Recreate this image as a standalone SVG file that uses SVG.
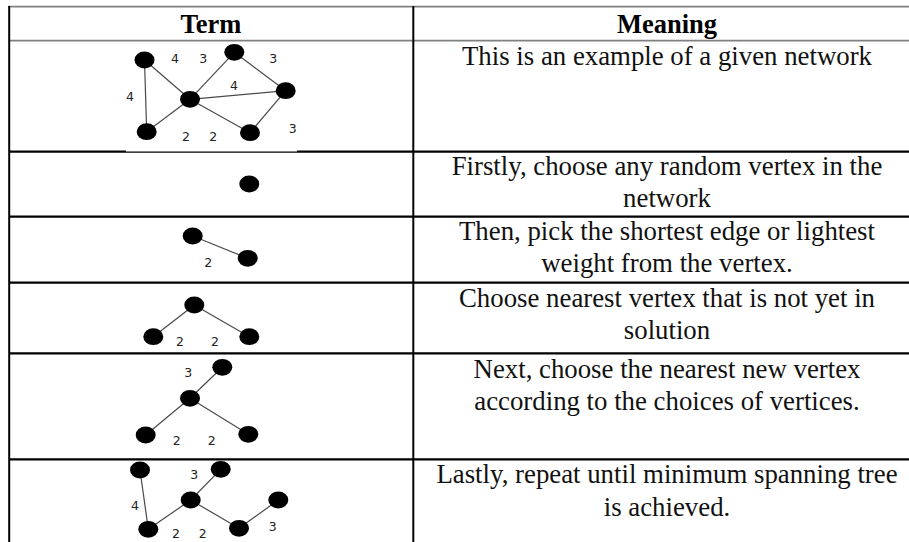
<svg xmlns="http://www.w3.org/2000/svg" width="909" height="542" viewBox="0 0 909 542">
<style>
.bg{fill:#ffffff}
.hg{stroke:#808080;stroke-width:1.8;fill:none}
.rl{stroke:#000000;stroke-width:2.2;fill:none}
.vl{stroke:#000000;stroke-width:2;fill:none}
.th{font-family:"Liberation Serif","Times New Roman",serif;font-size:26.5px;font-weight:bold;fill:#000;text-anchor:middle}
.td{font-family:"Liberation Serif","Times New Roman",serif;font-size:26.8px;fill:#111;text-anchor:middle}
.e{stroke:#4a4a4a;stroke-width:1.2;fill:none}
.w{font-family:"DejaVu Sans",Verdana,sans-serif;font-size:12.5px;fill:#222;text-anchor:middle}
.v{fill:#000}
</style>
<rect class="bg" x="0" y="0" width="909" height="542"/>
<g id="table">
<line class="hg" x1="8" y1="6.7" x2="909" y2="6.7"/>
<line class="hg" x1="9" y1="40.7" x2="909" y2="40.7"/>
<line class="rl" x1="9" y1="151.7" x2="126" y2="151.7"/>
<line class="rl" x1="297" y1="151.7" x2="909" y2="151.7"/>
<line stroke="#000" stroke-width="1.2" x1="126" y1="152.2" x2="297" y2="152.2"/>
<line class="rl" x1="9" y1="216.7" x2="909" y2="216.7"/>
<line class="rl" x1="9" y1="282.7" x2="909" y2="282.7"/>
<line class="rl" x1="9" y1="353.3" x2="909" y2="353.3"/>
<line class="rl" x1="9" y1="459.3" x2="909" y2="459.3"/>
<line class="vl" x1="9.2" y1="6" x2="9.2" y2="542"/>
<line class="vl" x1="413.3" y1="6" x2="413.3" y2="542"/>
</g>
<g id="text">
<text class="th" x="211" y="32.5">Term</text>
<text class="th" x="667" y="32.5">Meaning</text>
<text class="td" x="667" y="64.5">This is an example of a given network</text>
<text class="td" x="667" y="175">Firstly, choose any random vertex in the</text>
<text class="td" x="667" y="206.7">network</text>
<text class="td" x="667" y="240">Then, pick the shortest edge or lightest</text>
<text class="td" x="667" y="271.7">weight from the vertex.</text>
<text class="td" x="667" y="307.3">Choose nearest vertex that is not yet in</text>
<text class="td" x="667" y="339">solution</text>
<text class="td" x="667" y="377.7">Next, choose the nearest new vertex</text>
<text class="td" x="667" y="410">according to the choices of vertices.</text>
<text class="td" x="667" y="483.3">Lastly, repeat until minimum spanning tree</text>
<text class="td" x="667" y="515.7">is achieved.</text>
</g>
<g id="connectors">
<line class="e" x1="144.5" y1="60" x2="146.7" y2="131.7"/>
<line class="e" x1="144.5" y1="60" x2="190" y2="99.3"/>
<line class="e" x1="190" y1="99.3" x2="234.3" y2="52.3"/>
<line class="e" x1="234.3" y1="52.3" x2="285.7" y2="90.7"/>
<line class="e" x1="190" y1="99.3" x2="285.7" y2="90.7"/>
<line class="e" x1="190" y1="99.3" x2="146.7" y2="131.7"/>
<line class="e" x1="190" y1="99.3" x2="250" y2="132.7"/>
<line class="e" x1="250" y1="132.7" x2="285.7" y2="90.7"/>
<line class="e" x1="192.7" y1="236" x2="247.7" y2="258.3"/>
<line class="e" x1="194.3" y1="305" x2="153.3" y2="336.7"/>
<line class="e" x1="194.3" y1="305" x2="249.3" y2="336.7"/>
<line class="e" x1="190" y1="398.3" x2="222.3" y2="367.3"/>
<line class="e" x1="190" y1="398.3" x2="145.7" y2="435"/>
<line class="e" x1="190" y1="398.3" x2="248.3" y2="434.3"/>
<line class="e" x1="140" y1="470" x2="148.3" y2="529.3"/>
<line class="e" x1="190.7" y1="500" x2="220.7" y2="469.3"/>
<line class="e" x1="190.7" y1="500" x2="148.3" y2="529.3"/>
<line class="e" x1="190.7" y1="500" x2="239" y2="528.3"/>
<line class="e" x1="239" y1="528.3" x2="278.3" y2="500"/>
</g>
<g id="weights">
<text class="w" x="130" y="101.3">4</text>
<text class="w" x="175" y="62.9">4</text>
<text class="w" x="203.3" y="62.9">3</text>
<text class="w" x="273.3" y="62.9">3</text>
<text class="w" x="234" y="89.6">4</text>
<text class="w" x="186" y="141.3">2</text>
<text class="w" x="213.3" y="141.3">2</text>
<text class="w" x="292.7" y="132.9">3</text>
<text class="w" x="208.3" y="267.3">2</text>
<text class="w" x="180" y="346.3">2</text>
<text class="w" x="215" y="346.3">2</text>
<text class="w" x="188.3" y="377.3">3</text>
<text class="w" x="176.7" y="444.6">2</text>
<text class="w" x="211.7" y="444.6">2</text>
<text class="w" x="135" y="509.6">4</text>
<text class="w" x="194.3" y="478.6">3</text>
<text class="w" x="176" y="537.9">2</text>
<text class="w" x="202.7" y="537.9">2</text>
<text class="w" x="272.7" y="531.3">3</text>
</g>
<g id="r1-a"><ellipse class="v" cx="144.5" cy="60" rx="10" ry="8.4"/></g>
<g id="r1-b"><ellipse class="v" cx="234.3" cy="52.3" rx="10" ry="8.4"/></g>
<g id="r1-c"><ellipse class="v" cx="285.7" cy="90.7" rx="10" ry="8.4"/></g>
<g id="r1-d"><ellipse class="v" cx="190" cy="99.3" rx="10" ry="8.4"/></g>
<g id="r1-e"><ellipse class="v" cx="146.7" cy="131.7" rx="10" ry="8.4"/></g>
<g id="r1-f"><ellipse class="v" cx="250" cy="132.7" rx="10" ry="8.4"/></g>
<g id="r2-a"><ellipse class="v" cx="249.3" cy="184" rx="10" ry="8.4"/></g>
<g id="r3-a"><ellipse class="v" cx="192.7" cy="236" rx="10" ry="8.4"/></g>
<g id="r3-b"><ellipse class="v" cx="247.7" cy="258.3" rx="10" ry="8.4"/></g>
<g id="r4-a"><ellipse class="v" cx="194.3" cy="305" rx="10" ry="8.4"/></g>
<g id="r4-b"><ellipse class="v" cx="153.3" cy="336.7" rx="10" ry="8.4"/></g>
<g id="r4-c"><ellipse class="v" cx="249.3" cy="336.7" rx="10" ry="8.4"/></g>
<g id="r5-a"><ellipse class="v" cx="222.3" cy="367.3" rx="10" ry="8.4"/></g>
<g id="r5-b"><ellipse class="v" cx="190" cy="398.3" rx="10" ry="8.4"/></g>
<g id="r5-c"><ellipse class="v" cx="145.7" cy="435" rx="10" ry="8.4"/></g>
<g id="r5-d"><ellipse class="v" cx="248.3" cy="434.3" rx="10" ry="8.4"/></g>
<g id="r6-a"><ellipse class="v" cx="140" cy="470" rx="10" ry="8.4"/></g>
<g id="r6-b"><ellipse class="v" cx="220.7" cy="469.3" rx="10" ry="8.4"/></g>
<g id="r6-c"><ellipse class="v" cx="190.7" cy="500" rx="10" ry="8.4"/></g>
<g id="r6-d"><ellipse class="v" cx="148.3" cy="529.3" rx="10" ry="8.4"/></g>
<g id="r6-e"><ellipse class="v" cx="239" cy="528.3" rx="10" ry="8.4"/></g>
<g id="r6-f"><ellipse class="v" cx="278.3" cy="500" rx="10" ry="8.4"/></g>
</svg>
